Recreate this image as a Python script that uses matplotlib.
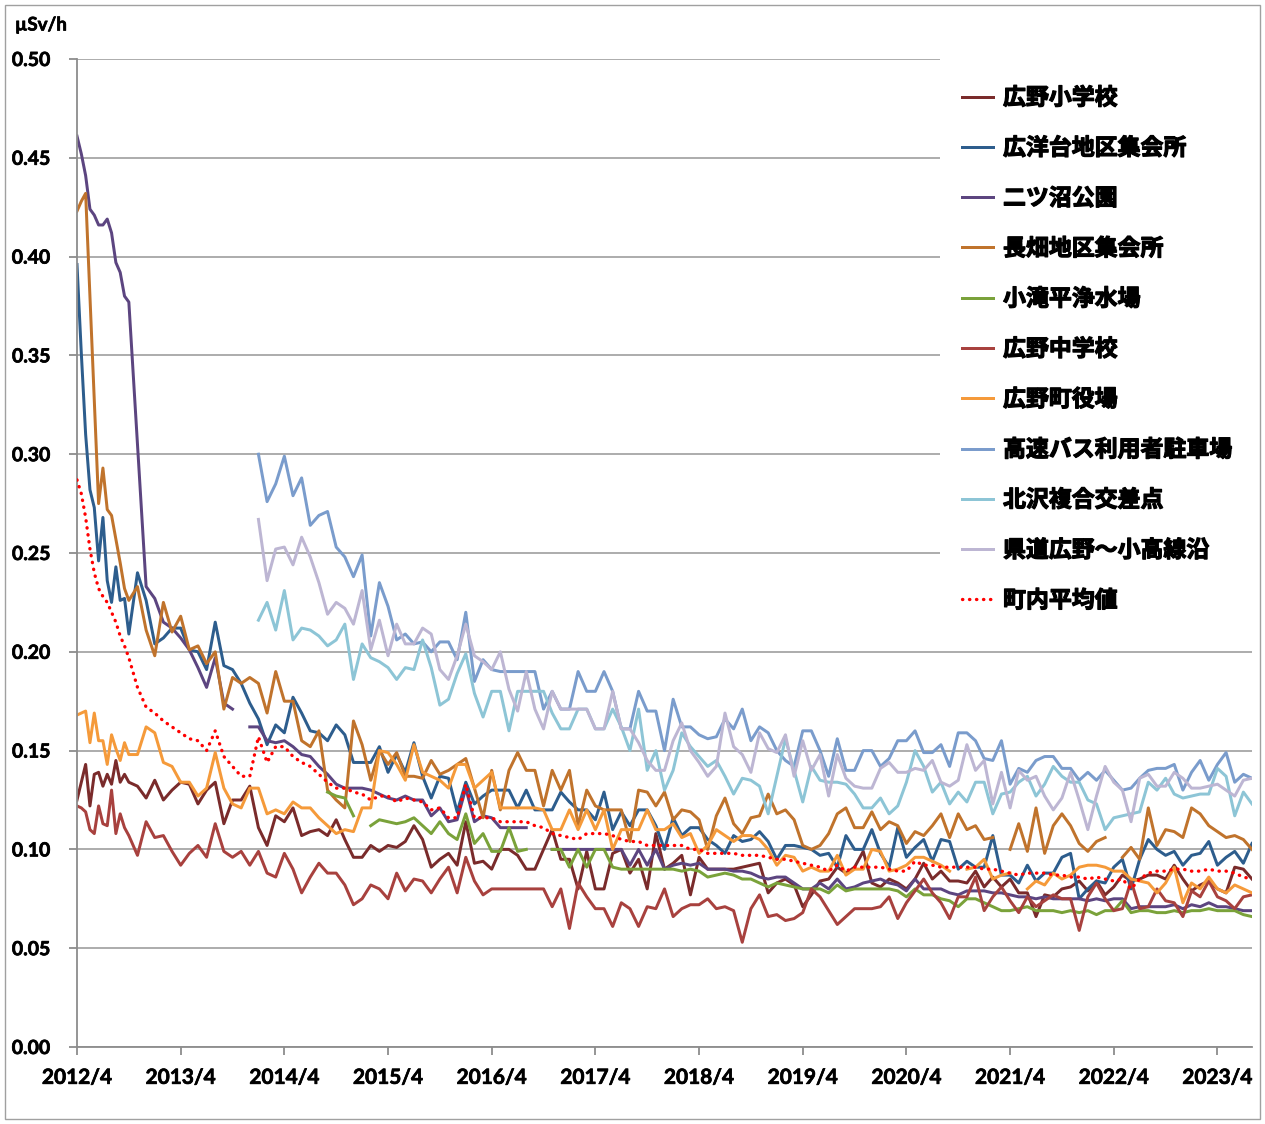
import numpy as np
import matplotlib
matplotlib.use('Agg')
import matplotlib.pyplot as plt
import matplotlib.patheffects as pe
from matplotlib.patches import Rectangle
from matplotlib.font_manager import FontProperties

n = np.nan

# x positions: months since 2012/4 (half-monthly readings up to 2012/10, then monthly up to 2023/8)
months = np.concatenate([np.arange(0, 6.5, 0.5), np.arange(7, 137)])
tick_pos = [0, 12, 24, 36, 48, 60, 72, 84, 96, 108, 120, 132]
tick_labels = ['2012/4', '2013/4', '2014/4', '2015/4', '2016/4', '2017/4',
               '2018/4', '2019/4', '2020/4', '2021/4', '2022/4', '2023/4']

labels = ['広野小学校', '広洋台地区集会所', '二ツ沼公園', '長畑地区集会所', '小滝平浄水場',
          '広野中学校', '広野町役場', '高速バス利用者駐車場', '北沢複合交差点',
          '県道広野～小高線沿', '町内平均値']

# µSv/h values, rows: 2012/4-10 (half-monthly), 2012/11-2013/3, then one row per year from 2013/4
hirono_sho = [
    0.125, 0.134, 0.143, 0.122, 0.138, 0.139, 0.132, 0.138, 0.133, 0.145, 0.134, 0.138, 0.134,
    0.132, 0.126, 0.135, 0.125, 0.130,
    0.134, 0.133, 0.123, 0.130, 0.134, 0.113, 0.125, 0.125, 0.132, 0.111, 0.102, 0.117,
    0.114, 0.121, 0.107, 0.109, 0.110, 0.107, 0.115, 0.105, 0.096, 0.096, 0.102, 0.099,
    0.102, 0.101, 0.104, 0.112, 0.105, 0.091, 0.095, 0.098, 0.092, 0.114, 0.093, 0.094,
    0.090, 0.100, 0.100, 0.097, 0.090, 0.090, 0.100, 0.110, 0.095, 0.095, 0.080, 0.099,
    0.080, 0.080, 0.098, 0.100, 0.088, 0.095, 0.080, 0.108, 0.090, 0.093, 0.097, 0.077,
    0.096, 0.090, 0.090, 0.090, 0.090, 0.091, 0.092, 0.093, 0.078, 0.083, 0.085, 0.082,
    0.071, 0.077, 0.084, 0.085, 0.091, 0.088, 0.091, 0.099, 0.083, 0.081, 0.085, 0.083,
    0.080, 0.085, 0.093, 0.085, 0.089, 0.084, 0.084, 0.083, 0.089, 0.081, 0.086, 0.081,
    0.085, 0.078, 0.078, 0.066, 0.077, 0.076, 0.080, 0.081, 0.084, 0.079, 0.084, 0.077,
    0.081, 0.087, 0.084, 0.085, 0.087, 0.087, 0.085, 0.092, 0.085, 0.079, 0.082, 0.084,
    0.080, 0.078, 0.091, 0.090, 0.085]

koyodai = [
    0.396, 0.351, 0.310, 0.282, 0.273, 0.246, 0.268, 0.236, 0.225, 0.243, 0.226, 0.227, 0.209,
    0.240, 0.226, 0.204, 0.207, 0.212,
    0.212, 0.201, 0.200, 0.191, 0.215, 0.193, 0.191, 0.184, 0.174, 0.166, 0.153, 0.163,
    0.159, 0.177, 0.169, 0.160, 0.159, 0.155, 0.163, 0.158, 0.144, 0.144, 0.144, 0.152,
    0.139, 0.148, 0.139, 0.154, 0.137, 0.126, 0.137, 0.136, 0.119, 0.134, 0.123, 0.127,
    0.130, 0.130, 0.130, 0.121, 0.130, 0.120, 0.120, 0.120, 0.129, 0.124, 0.120, 0.120,
    0.115, 0.129, 0.110, 0.119, 0.112, 0.120, 0.120, 0.112, 0.100, 0.116, 0.107, 0.111,
    0.111, 0.105, 0.102, 0.098, 0.107, 0.104, 0.105, 0.109, 0.104, 0.095, 0.102, 0.102,
    0.101, 0.100, 0.097, 0.098, 0.091, 0.107, 0.100, 0.100, 0.110, 0.098, 0.091, 0.111,
    0.096, 0.101, 0.105, 0.094, 0.105, 0.104, 0.090, 0.094, 0.091, 0.091, 0.107, 0.087,
    0.087, 0.083, 0.092, 0.084, 0.088, 0.088, 0.096, 0.098, 0.075, 0.080, 0.084, 0.083,
    0.091, 0.095, 0.080, 0.095, 0.105, 0.100, 0.097, 0.099, 0.092, 0.097, 0.098, 0.104,
    0.092, 0.096, 0.099, 0.093, 0.103]

futatsunuma = [
    0.461, 0.452, 0.441, 0.424, 0.421, 0.416, 0.416, 0.419, 0.412, 0.397, 0.392, 0.380, 0.377,
    0.305, 0.233, 0.227, 0.215, 0.212,
    0.207, 0.201, 0.192, 0.182, 0.197, 0.174, 0.171, n, 0.162, 0.162, 0.155, 0.154,
    0.155, 0.152, 0.148, 0.147, 0.142, 0.138, 0.133, 0.131, 0.131, 0.131, 0.130, 0.128,
    0.126, 0.125, 0.127, 0.125, 0.125, 0.117, 0.121, 0.114, 0.115, 0.131, 0.114, 0.117,
    0.116, 0.111, 0.111, 0.111, 0.111, n, n, 0.100, 0.100, 0.100, 0.100, 0.100,
    0.100, 0.100, 0.100, 0.100, 0.092, 0.100, 0.092, 0.100, 0.090, 0.092, 0.093, 0.092,
    0.093, 0.090, 0.090, 0.090, 0.089, 0.089, 0.088, 0.086, 0.085, 0.086, 0.086, 0.083,
    0.080, 0.080, 0.083, 0.080, 0.085, 0.080, 0.081, 0.083, 0.084, 0.085, 0.083, 0.082,
    0.079, 0.085, 0.080, 0.080, 0.080, 0.078, 0.077, 0.079, 0.079, 0.079, 0.078, 0.078,
    0.077, 0.076, 0.076, 0.075, 0.076, 0.075, 0.075, 0.075, 0.075, 0.074, 0.075, 0.074,
    0.075, 0.075, 0.070, 0.071, 0.071, 0.071, 0.071, 0.072, 0.070, 0.072, 0.071, 0.073,
    0.071, 0.071, 0.070, 0.069, 0.069]

nagahata = [
    0.423, 0.428, 0.432, 0.380, 0.328, 0.275, 0.293, 0.272, 0.269, 0.257, 0.245, 0.232, 0.226,
    0.233, 0.211, 0.198, 0.225, 0.210,
    0.218, 0.201, 0.203, 0.194, 0.200, 0.171, 0.187, 0.184, 0.187, 0.184, 0.169, 0.190,
    0.175, 0.175, 0.155, 0.152, 0.160, 0.130, 0.125, 0.121, 0.165, 0.153, 0.135, 0.150,
    0.143, 0.149, 0.137, 0.137, 0.136, 0.145, 0.138, 0.140, 0.143, 0.146, 0.131, 0.116,
    0.140, 0.120, 0.140, 0.149, 0.140, 0.140, 0.122, 0.140, 0.130, 0.140, 0.112, 0.130,
    0.122, 0.120, 0.120, 0.120, 0.104, 0.130, 0.129, 0.122, 0.129, 0.115, 0.120, 0.119,
    0.115, 0.100, 0.117, 0.126, 0.113, 0.108, 0.116, 0.117, 0.128, 0.118, 0.120, 0.115,
    0.102, 0.100, 0.102, 0.108, 0.118, 0.121, 0.111, 0.111, 0.119, 0.110, 0.114, 0.112,
    0.103, 0.109, 0.107, 0.112, 0.118, 0.106, 0.118, 0.110, 0.112, 0.105, 0.106, n,
    0.100, 0.113, 0.099, 0.121, 0.098, 0.112, 0.118, 0.112, 0.103, 0.099, 0.104, 0.106,
    n, 0.096, 0.101, 0.095, 0.121, 0.102, 0.110, 0.109, 0.106, 0.121, 0.118, 0.112,
    0.109, 0.106, 0.107, 0.105, 0.100]

kotakidaira = [
    n, n, n, n, n, n, n, n, n, n, n, n, n,
    n, n, n, n, n,
    n, n, n, n, n, n, n, n, n, n, n, n,
    n, n, n, n, n, 0.129, 0.127, 0.126, 0.117, n, 0.112, 0.115,
    0.114, 0.113, 0.114, 0.116, 0.112, 0.108, 0.114, 0.108, 0.105, 0.118, 0.103, 0.108,
    0.099, 0.099, 0.111, 0.099, 0.100, n, n, 0.100, 0.100, 0.091, 0.100, 0.091,
    0.100, 0.100, 0.091, 0.090, 0.090, 0.090, 0.090, 0.090, 0.090, 0.090, 0.089, 0.090,
    0.089, 0.086, 0.087, 0.088, 0.087, 0.085, 0.085, 0.083, 0.081, 0.083, 0.082, 0.081,
    0.080, 0.080, 0.080, 0.078, 0.082, 0.079, 0.080, 0.080, 0.080, 0.080, 0.080, 0.079,
    0.076, 0.080, 0.077, 0.077, 0.075, 0.074, 0.071, 0.075, 0.075, 0.073, 0.071, 0.069,
    0.069, 0.070, 0.071, 0.069, 0.069, 0.069, 0.068, 0.069, 0.068, 0.069, 0.067, 0.069,
    0.069, 0.074, 0.068, 0.069, 0.069, 0.068, 0.068, 0.069, 0.068, 0.069, 0.069, 0.070,
    0.069, 0.069, 0.069, 0.067, 0.066]

hirono_chu = [
    0.122, 0.121, 0.119, 0.110, 0.108, 0.122, 0.113, 0.112, 0.130, 0.108, 0.118, 0.111, 0.107,
    0.097, 0.114, 0.106, 0.107, 0.099,
    0.092, 0.098, 0.102, 0.096, 0.113, 0.099, 0.096, 0.099, 0.092, 0.099, 0.088, 0.086,
    0.098, 0.090, 0.078, 0.086, 0.093, 0.088, 0.088, 0.082, 0.072, 0.075, 0.082, 0.080,
    0.075, 0.088, 0.079, 0.085, 0.084, 0.078, 0.085, 0.091, 0.078, 0.096, 0.084, 0.077,
    0.080, 0.080, 0.080, 0.080, 0.080, 0.080, 0.080, 0.071, 0.080, 0.060, 0.083, 0.076,
    0.070, 0.070, 0.061, 0.073, 0.070, 0.061, 0.071, 0.070, 0.080, 0.066, 0.070, 0.072,
    0.072, 0.075, 0.070, 0.071, 0.069, 0.053, 0.070, 0.077, 0.066, 0.067, 0.064, 0.065,
    0.068, 0.080, 0.076, 0.069, 0.062, 0.066, 0.070, 0.070, 0.070, 0.071, 0.076, 0.065,
    0.073, 0.079, 0.085, 0.078, 0.073, 0.065, 0.076, 0.076, 0.086, 0.069, 0.076, 0.081,
    0.074, 0.068, 0.076, 0.071, 0.074, 0.077, 0.075, 0.075, 0.059, 0.076, 0.083, 0.075,
    0.069, 0.070, 0.084, 0.070, 0.071, 0.080, 0.074, 0.073, 0.066, 0.079, 0.076, 0.084,
    0.076, 0.074, 0.070, 0.076, 0.077]

yakuba = [
    0.168, 0.169, 0.170, 0.154, 0.169, 0.155, 0.155, 0.143, 0.158, 0.151, 0.145, 0.154, 0.148,
    0.148, 0.162, 0.159, 0.144, 0.142,
    0.134, 0.134, 0.127, 0.131, 0.149, 0.131, 0.123, 0.121, 0.131, 0.131, 0.118, 0.120,
    0.118, 0.124, 0.121, 0.121, 0.116, 0.112, 0.108, 0.110, 0.109, 0.121, 0.121, 0.150,
    0.149, 0.143, 0.135, 0.153, 0.139, 0.137, 0.135, 0.131, 0.143, 0.143, 0.131, 0.135,
    0.139, 0.121, 0.121, 0.121, 0.121, 0.121, 0.120, 0.110, 0.110, 0.120, 0.110, 0.120,
    0.110, 0.120, 0.100, 0.110, 0.110, 0.110, 0.120, 0.110, 0.110, 0.113, 0.106, 0.108,
    0.098, 0.102, 0.110, 0.107, 0.104, 0.107, 0.107, 0.105, 0.100, 0.092, 0.097, 0.096,
    0.089, 0.091, 0.089, 0.089, 0.097, 0.087, 0.090, 0.090, 0.100, 0.099, 0.089, 0.090,
    0.092, 0.096, 0.096, 0.094, 0.092, 0.089, n, 0.090, 0.091, 0.095, 0.085, 0.087,
    0.088, n, 0.080, 0.084, 0.082, 0.088, 0.085, 0.087, 0.091, 0.092, 0.092, 0.091,
    0.089, 0.089, 0.085, 0.084, 0.083, 0.078, 0.083, 0.091, 0.073, 0.083, 0.080, 0.086,
    0.080, 0.078, 0.082, 0.080, 0.078]

kosoku_bus = [
    n, n, n, n, n, n, n, n, n, n, n, n, n,
    n, n, n, n, n,
    n, n, n, n, n, n, n, n, n, 0.300, 0.276, 0.285,
    0.299, 0.279, 0.288, 0.264, 0.269, 0.271, 0.253, 0.248, 0.238, 0.249, 0.208, 0.235,
    0.223, 0.206, 0.209, 0.204, 0.205, 0.200, 0.205, 0.205, 0.196, 0.220, 0.185, 0.196,
    0.191, 0.190, 0.190, 0.190, 0.190, 0.190, 0.171, 0.180, 0.171, 0.171, 0.190, 0.180,
    0.180, 0.190, 0.180, 0.161, 0.161, 0.180, 0.170, 0.170, 0.150, 0.176, 0.162, 0.162,
    0.158, 0.156, 0.157, 0.166, 0.161, 0.171, 0.155, 0.162, 0.159, 0.150, 0.145, 0.142,
    0.160, 0.160, 0.150, 0.137, 0.156, 0.140, 0.140, 0.150, 0.150, 0.142, 0.146, 0.155,
    0.155, 0.160, 0.149, 0.149, 0.153, 0.142, 0.159, 0.159, 0.155, 0.146, 0.145, 0.155,
    0.133, 0.141, 0.139, 0.145, 0.147, 0.147, 0.141, 0.141, 0.135, 0.139, 0.135, 0.140,
    0.135, 0.130, 0.131, 0.136, 0.140, 0.141, 0.141, 0.143, 0.130, 0.139, 0.145, 0.135,
    0.143, 0.149, 0.134, 0.138, 0.136]

kitazawa = [
    n, n, n, n, n, n, n, n, n, n, n, n, n,
    n, n, n, n, n,
    n, n, n, n, n, n, n, n, n, 0.216, 0.225, 0.211,
    0.231, 0.206, 0.212, 0.211, 0.208, 0.203, 0.206, 0.214, 0.186, 0.204, 0.197, 0.195,
    0.192, 0.186, 0.192, 0.191, 0.206, 0.192, 0.173, 0.176, 0.189, 0.199, 0.179, 0.167,
    0.180, 0.180, 0.160, 0.180, 0.180, 0.180, 0.180, 0.169, 0.161, 0.161, 0.171, 0.171,
    0.161, 0.161, 0.171, 0.162, 0.150, 0.171, 0.140, 0.150, 0.130, 0.140, 0.159, 0.152,
    0.147, 0.142, 0.145, 0.137, 0.128, 0.136, 0.135, 0.132, 0.118, 0.137, 0.156, 0.140,
    0.124, 0.142, 0.135, 0.134, 0.134, 0.133, 0.128, 0.121, 0.121, 0.126, 0.118, 0.122,
    0.134, 0.150, 0.142, 0.129, 0.134, 0.123, 0.129, 0.124, 0.134, 0.134, 0.118, 0.128,
    0.129, 0.134, 0.137, 0.127, 0.133, 0.142, 0.137, 0.134, 0.134, 0.125, 0.123, 0.110,
    0.116, 0.117, 0.118, 0.119, 0.134, 0.130, 0.136, 0.128, 0.126, 0.127, 0.128, 0.128,
    0.141, 0.137, 0.117, 0.129, 0.123]

kendo = [
    n, n, n, n, n, n, n, n, n, n, n, n, n,
    n, n, n, n, n,
    n, n, n, n, n, n, n, n, n, 0.267, 0.236, 0.252,
    0.253, 0.244, 0.258, 0.248, 0.235, 0.219, 0.225, 0.222, 0.214, 0.231, 0.201, 0.216,
    0.198, 0.214, 0.204, 0.204, 0.212, 0.209, 0.191, 0.186, 0.198, 0.214, 0.198, 0.195,
    0.191, 0.200, 0.181, 0.170, 0.190, 0.171, 0.161, 0.180, 0.171, 0.171, 0.171, 0.171,
    0.161, 0.161, 0.180, 0.161, 0.161, 0.154, 0.145, 0.140, 0.140, 0.155, 0.164, 0.150,
    0.144, 0.137, 0.142, 0.169, 0.152, 0.148, 0.139, 0.159, 0.151, 0.149, 0.158, 0.137,
    0.155, 0.140, 0.148, 0.127, 0.148, 0.136, 0.132, 0.131, 0.131, 0.141, 0.144, 0.139,
    0.139, 0.141, 0.140, 0.145, 0.134, 0.132, 0.135, 0.153, 0.140, 0.145, 0.123, 0.139,
    0.121, 0.140, 0.135, 0.137, 0.127, 0.120, 0.126, 0.139, 0.125, 0.110, 0.127, 0.142,
    0.134, 0.130, 0.114, 0.136, 0.138, 0.132, 0.132, 0.139, 0.136, 0.131, 0.131, 0.132,
    0.133, 0.130, 0.127, 0.135, 0.136]

town_avg = [
    0.287, 0.280, 0.268, 0.252, 0.240, 0.232, 0.228, 0.225, 0.220, 0.215, 0.208, 0.203, 0.197,
    0.182, 0.172, 0.169, 0.165, 0.162,
    0.159, 0.156, 0.155, 0.150, 0.160, 0.147, 0.142, 0.137, 0.137, 0.157, 0.144, 0.152,
    0.152, 0.147, 0.144, 0.142, 0.138, 0.134, 0.131, 0.131, 0.129, 0.128, 0.125, 0.127,
    0.127, 0.124, 0.126, 0.125, 0.124, 0.120, 0.121, 0.116, 0.116, 0.133, 0.116, 0.116,
    0.116, 0.114, 0.114, 0.114, 0.114, 0.112, 0.111, 0.108, 0.107, 0.106, 0.105, 0.108,
    0.108, 0.108, 0.107, 0.105, 0.104, 0.104, 0.102, 0.102, 0.102, 0.102, 0.102, 0.100,
    0.100, 0.098, 0.098, 0.098, 0.098, 0.097, 0.097, 0.097, 0.096, 0.095, 0.095, 0.094,
    0.093, 0.092, 0.091, 0.089, 0.092, 0.089, 0.091, 0.091, 0.091, 0.091, 0.090, 0.089,
    0.089, 0.094, 0.092, 0.092, 0.091, 0.091, 0.091, 0.091, 0.091, 0.090, 0.090, 0.089,
    0.088, 0.087, 0.088, 0.088, 0.088, 0.087, 0.087, 0.086, 0.086, 0.085, 0.086, 0.085,
    0.084, 0.085, 0.080, 0.085, 0.088, 0.089, 0.089, 0.090, 0.090, 0.089, 0.089, 0.090,
    0.089, 0.089, 0.088, 0.086, 0.085]

series = [hirono_sho, koyodai, futatsunuma, nagahata, kotakidaira, hirono_chu,
          yakuba, kosoku_bus, kitazawa, kendo, town_avg]
colors = ['#7A2B2B', '#2D5D8D', '#5C4580', '#C0732C', '#7AA23A', '#A8413E',
          '#F59A3A', '#7A9CCC', '#8DC5D6', '#BDB6D3', '#FF0000']

W, H = 1265, 1124
fig = plt.figure(figsize=(W / 100, H / 100), dpi=100)
ax = fig.add_axes([77 / W, 1 - 1047 / H, 1175 / W, 988 / H])

handles = []
for y, c, lab in zip(series, colors, labels):
    if lab == '町内平均値':
        h, = ax.plot(months, y, color=c, lw=2.4, linestyle=(0, (0.1, 2.0)),
                     dash_capstyle='round', label=lab, zorder=3)
    else:
        h, = ax.plot(months, y, color=c, lw=2.15, label=lab, zorder=2.5,
                     solid_joinstyle='round')
    handles.append(h)

ax.set_xlim(0, 136)
ax.set_ylim(0, 0.5)
ax.set_yticks(np.arange(0, 0.501, 0.05))
ax.set_yticklabels(['%.2f' % v for v in np.arange(0, 0.501, 0.05)])
ax.set_xticks(tick_pos)
ax.set_xticklabels(tick_labels)

ax.grid(axis='y', color='#A6A6A6', lw=1.3, zorder=1)
ax.set_axisbelow(True)
for s in ['top', 'right']:
    ax.spines[s].set_visible(False)
for s in ['left', 'bottom']:
    ax.spines[s].set_color('#8C8C8C')
    ax.spines[s].set_linewidth(1.3)
ax.tick_params(axis='both', direction='out', length=6, width=1.3, color='#8C8C8C')
ax.tick_params(axis='y', pad=13)
ax.tick_params(axis='x', pad=9)
thick = [pe.withStroke(linewidth=0.5, foreground='black')]
for t in ax.get_yticklabels():
    t.set_fontfamily('Lato')
    t.set_fontweight('bold')
    t.set_fontsize(14)
    t.set_path_effects(thick)
for t in ax.get_xticklabels():
    t.set_fontfamily('Lato')
    t.set_fontweight('bold')
    t.set_fontsize(15)
    t.set_path_effects(thick)

fig.text(15 / W, 1 - 25 / H, 'µSv/h', fontfamily='Lato', fontweight='bold',
         fontsize=13.5, va='center', ha='left', path_effects=thick)

# white box behind the legend hides the gridlines there
ax.add_patch(Rectangle((0.7345, 0.427), 0.28, 0.58, transform=ax.transAxes,
                       facecolor='white', edgecolor='none', zorder=1.8, clip_on=False))

leg_font = FontProperties(family=['Noto Sans CJK JP', 'DejaVu Sans'], weight='bold', size=16.5)
leg = ax.legend(handles, labels, loc='upper left', bbox_to_anchor=(0.753, 0.972),
                frameon=False, prop=leg_font, labelspacing=1.19, handlelength=1.35,
                handletextpad=0.45, borderaxespad=0, borderpad=0)
for t in leg.get_texts():
    t.set_path_effects([pe.withStroke(linewidth=0.9, foreground='black')])

# outer frame of the chart area
fig.patches.append(Rectangle((5 / W, 5 / H), 1 - 10 / W, 1 - 10 / H, transform=fig.transFigure,
                             fill=False, edgecolor='#A0A0A0', lw=1))

fig.savefig('out.png', dpi=100)
